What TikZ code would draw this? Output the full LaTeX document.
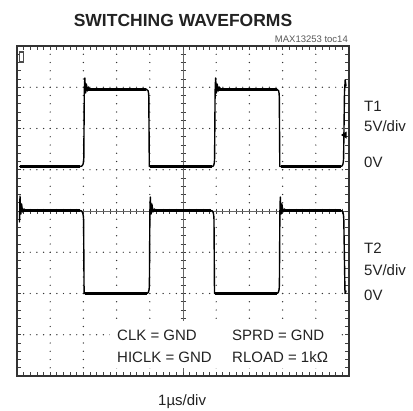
\documentclass[tikz,border=0pt]{standalone}
\usepackage{fontspec}
\setmainfont{Liberation Sans}
\definecolor{ink}{HTML}{222222}
\definecolor{framec}{HTML}{333333}
\begin{document}
\begin{tikzpicture}[x=1bp,y=-1bp,
  lbl/.style={font=\fontsize{15bp}{18bp}\selectfont, text=ink, inner sep=0pt, anchor=base west},
  title/.style={font=\fontsize{17.5bp}{20bp}\selectfont\bfseries, text=ink, inner sep=0pt, anchor=base},
  tag/.style={font=\fontsize{9.5bp}{11bp}\selectfont, text=black!65, inner sep=0pt, anchor=base east},
  gdot/.style={fill=black!80},
  tick/.style={draw=black!75, line width=0.7bp},
  frame/.style={draw=framec, line width=2.6bp},
  wave/.style={draw=black, line width=1.4bp, line join=round, line cap=round},
  plateau/.style={draw=black, line width=2.8bp, line cap=butt}]
\useasboundingbox (0,0) rectangle (413,411);
\fill[white] (0,0) rectangle (413,411);

% dotted grid lines
\foreach \j in {1,2,3,5,6,7}{
  \foreach \i in {1,...,49}{
    \fill[gdot] ({17+6.64*\i},{46+41.25*\j}) circle (0.7);
  }
}
\foreach \i in {1,2,3,4,6,7,8,9}{
  \foreach \j in {1,...,39}{
    \fill[gdot] ({17+33.2*\i},{46+8.25*\j}) circle (0.7);
  }
}
% centre axes with ticks
\foreach \i in {1,...,49}{
  \draw[tick] ({17+6.64*\i},208.5) -- ({17+6.64*\i},213.5);
}
\foreach \j in {1,...,39}{
  \draw[tick] (180.5,{46+8.25*\j}) -- (185.5,{46+8.25*\j});
}
\draw[black!60, line width=0.4bp] (17,211) -- (349,211);
\draw[black!60, line width=0.4bp] (183,46) -- (183,376);
% border ticks
\foreach \i in {1,...,49}{
  \draw[tick] ({17+6.64*\i},46) -- ({17+6.64*\i},50);
  \draw[tick] ({17+6.64*\i},376) -- ({17+6.64*\i},372);
}
\foreach \j in {1,...,39}{
  \draw[tick] (17,{46+8.25*\j}) -- (21,{46+8.25*\j});
  \draw[tick] (349,{46+8.25*\j}) -- (345,{46+8.25*\j});
}
% blank area behind the condition text
\fill[white] (110,321) rectangle (338,368);
% frame
\draw[frame] (17,46) rectangle (349,376);

% markers
\draw[draw=black!70, fill=white, line width=1.2bp] (19.5,52) rectangle (23.5,62);
\fill[black] (341,135) -- (346.5,131.5) -- (346.5,138.5) -- cycle;

% T1 waveform
\draw[wave] (19.5,166.5) -- (80,166.5) .. controls (83,166.5) and (83.6,164) .. (83.8,158)
  -- (84.3,92) -- (84.8,78) -- (85.6,93) -- (86.4,84) -- (87.4,91) -- (88.5,87) -- (90,89.5)
  -- (146,89) .. controls (148,89) and (148.6,91) .. (148.8,97) -- (149.3,166.5)
  -- (212,166.5) .. controls (214,166.5) and (214.4,164) .. (214.6,158)
  -- (215.1,92) -- (215.6,78) -- (216.4,93) -- (217.2,84) -- (218.2,91) -- (219.3,87) -- (221,89.5)
  -- (276.5,89) .. controls (278.5,89) and (279.1,91) .. (279.3,97) -- (279.8,166.5)
  -- (340.5,166.5) .. controls (342.8,166.5) and (343.4,164) .. (343.6,158)
  -- (344.5,92) -- (345.2,80) -- (346,86);
\draw[plateau] (20,166.5) -- (80,166.5);
\draw[plateau] (150,166.5) -- (212,166.5);
\draw[plateau] (280.5,166.5) -- (340.5,166.5);
\draw[plateau] (88,89.3) -- (146,89.3);
\draw[plateau] (219,89.3) -- (276.5,89.3);

% T2 waveform
\draw[wave] (19.5,222) -- (20,196) -- (20.8,214) -- (21.6,204) -- (22.6,212) -- (24,209) -- (26,210.5)
  -- (80,210.5) .. controls (82.5,210.5) and (83.3,213) .. (83.6,220) -- (84.1,293.5)
  -- (146.5,293.5) .. controls (148.6,293.5) and (149.2,291) .. (149.4,285)
  -- (149.9,212) -- (150.3,197) -- (151.1,214) -- (151.9,204) -- (152.9,212) -- (154.3,209) -- (156,210.5)
  -- (211,210.5) .. controls (213.2,210.5) and (213.8,213) .. (214,220) -- (214.5,293.5)
  -- (276.5,293.5) .. controls (278.6,293.5) and (279.2,291) .. (279.4,285)
  -- (279.9,212) -- (280.3,197) -- (281.1,214) -- (281.9,204) -- (282.9,212) -- (284.3,209) -- (286,210.5)
  -- (341,210.5) .. controls (343,210.5) and (343.5,213) .. (343.8,220) -- (345,293.5) -- (346,291);
\draw[plateau] (22,210.3) -- (80,210.3);
\draw[plateau] (152,210.3) -- (211,210.3);
\draw[plateau] (282,210.3) -- (341,210.3);
\draw[plateau] (85,293.7) -- (146.5,293.7);
\draw[plateau] (215,293.7) -- (276.5,293.7);

% texts
\node[title] (ttl) at (183,26) {SWITCHING WAVEFORMS};
\node[tag] (tag) at (348,42) {MAX13253 toc14};
\node[lbl] (t1) at (364,111) {T1};
\node[lbl] (t1s) at (364,131) {5V/div};
\node[lbl] (t1z) at (364,167) {0V};
\node[lbl] (t2) at (364,253) {T2};
\node[lbl] (t2s) at (364,275) {5V/div};
\node[lbl] (t2z) at (364,300) {0V};
\node[lbl] (clk) at (117,340) {CLK = GND};
\node[lbl] (hiclk) at (117,362) {HICLK = GND};
\node[lbl] (sprd) at (232,340) {SPRD = GND};
\node[lbl] (rload) at (232,362) {RLOAD = 1kΩ};
\node[lbl] (xdiv) at (158,405) {1µs/div};
\end{tikzpicture}
\end{document}
